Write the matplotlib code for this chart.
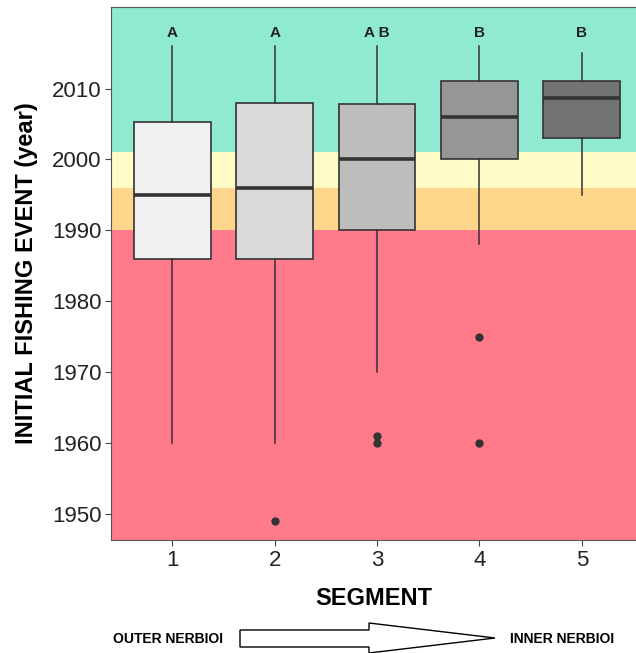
import matplotlib.pyplot as plt
from matplotlib.patches import Polygon
import numpy as np

plt.rcParams['font.family'] = ['Liberation Sans', 'DejaVu Sans']

# data
segments = [1, 2, 3, 4, 5]
q1 = [1986, 1986, 1990, 2000, 2003]
medians = [1995, 1996, 2000, 2006, 2008.7]
q3 = [2005.3, 2008, 2007.8, 2011.1, 2011.1]
whisk_lo = [1960, 1960, 1970, 1988, 1995]
whisk_hi = [2016, 2016, 2016, 2016, 2015]
outliers = [[], [1949], [1961, 1960], [1975, 1960], []]
letters = ['A', 'A', 'A B', 'B', 'B']
box_colors = ['#F0F0F0', '#D9D9D9', '#BDBDBD', '#969696', '#737373']

# period bands (year limits) and colours
band_edges = [1900, 1990, 1996, 2001, 2100]
band_colors = ['#FF7A8B', '#FDD68B', '#FEFBC7', '#90E9D1']

fig = plt.figure(figsize=(6.36, 6.53), dpi=100)
ax = fig.add_axes([111 / 636, 1 - 540 / 653, 525 / 636, 533 / 653])

for i in range(len(band_colors)):
    ax.axhspan(band_edges[i], band_edges[i + 1], color=band_colors[i], lw=0, zorder=0)

stats = []
for i in range(len(segments)):
    stats.append({'med': medians[i], 'q1': q1[i], 'q3': q3[i],
                  'whislo': whisk_lo[i], 'whishi': whisk_hi[i],
                  'fliers': outliers[i], 'label': str(segments[i])})

bp = ax.bxp(stats, positions=segments, widths=0.75, patch_artist=True,
            showcaps=False,
            boxprops=dict(edgecolor='#333333', linewidth=1.2),
            medianprops=dict(color='#333333', linewidth=2.6),
            whiskerprops=dict(color='#333333', linewidth=1.1),
            flierprops=dict(marker='o', markerfacecolor='#333333',
                            markeredgecolor='#333333', markersize=5))
for patch, c in zip(bp['boxes'], box_colors):
    patch.set_facecolor(c)
    patch.set_zorder(2)

for x, lab in zip(segments, letters):
    ax.text(x, 2017.8, lab, ha='center', va='center', fontsize=11,
            fontweight='bold', color='#222222')

ax.set_xlim(0.4, 5.53)
ax.set_ylim(1946.3, 2021.5)
ax.set_yticks([1950, 1960, 1970, 1980, 1990, 2000, 2010])
ax.set_xticks(segments)
ax.set_xticklabels([str(s) for s in segments])
ax.tick_params(labelsize=16, colors='#222222', length=4, width=0.8, pad=3)
ax.tick_params(axis='both', color='#444444')
for s in ax.spines.values():
    s.set_color('#555555')
    s.set_linewidth(0.8)
ax.spines['right'].set_visible(False)

ax.set_xlabel('SEGMENT', fontsize=17, fontweight='bold', labelpad=12)
ax.set_ylabel('INITIAL FISHING EVENT (year)', fontsize=17, fontweight='bold',
              labelpad=10)

# direction arrow below the chart
to_fig = lambda x, y: (x / 636, 1 - y / 653)
arrow_pts = [(240, 630), (369, 630), (369, 623), (495, 638), (369, 653),
             (369, 647), (240, 647)]
fig.add_artist(Polygon([to_fig(*p) for p in arrow_pts], closed=True,
                       transform=fig.transFigure, facecolor='white',
                       edgecolor='black', linewidth=1.0))
fig.text(113 / 636, 1 - 639 / 653, 'OUTER NERBIOI', fontsize=10,
         fontweight='bold', va='center', ha='left')
fig.text(510 / 636, 1 - 639 / 653, 'INNER NERBIOI', fontsize=10,
         fontweight='bold', va='center', ha='left')

fig.savefig('out.png', dpi=100)
